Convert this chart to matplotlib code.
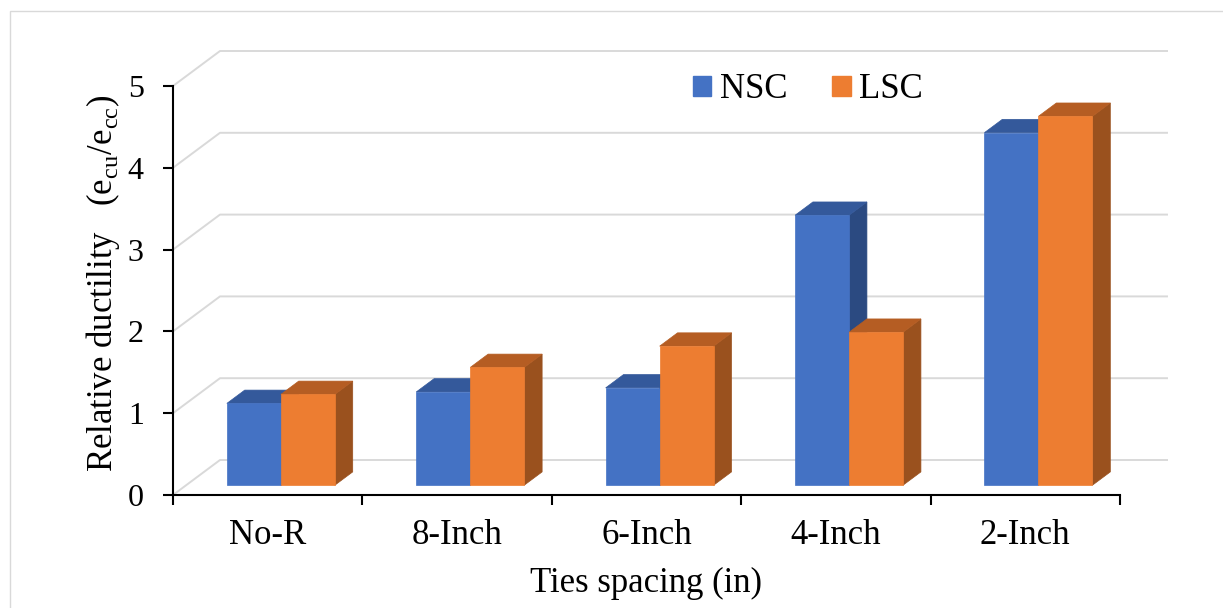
import matplotlib
matplotlib.use("Agg")
import matplotlib.pyplot as plt
from matplotlib.patches import Polygon, Patch, Rectangle

categories = ['No-R', '8-Inch', '6-Inch', '4-Inch', '2-Inch']
series = ['NSC', 'LSC']
nsc = [1.00, 1.14, 1.19, 3.30, 4.31]
lsc = [1.11, 1.44, 1.70, 1.87, 4.51]
yticks = [0, 1, 2, 3, 4, 5]

plt.rcParams['font.family'] = ['Liberation Serif', 'DejaVu Serif']
plt.rcParams['mathtext.fontset'] = 'custom'
plt.rcParams['mathtext.rm'] = 'Liberation Serif'

W, H = 1223, 608
fig = plt.figure(figsize=(W / 100, H / 100), dpi=100)

# layout in pixels
left_px, right_px, zero_px, top_px = 173, 1175, 495, 40
xunit, yunit = 189.4, 81.8          # px per category / per unit value
ax = fig.add_axes([left_px / W, (H - zero_px) / H,
                   (right_px - left_px) / W, (zero_px - top_px) / H])
ax.set_xlim(-0.5, -0.5 + (right_px - left_px) / xunit)
ax.set_ylim(0, (zero_px - top_px) / yunit)
ax.patch.set_visible(False)

# fake 3d depth
DX, DY = 47 / xunit, 35 / yunit
f0, fd = 0.28, 0.38     # bar front position and bar depth (fraction of full depth)
w = 54 / xunit
n = len(categories)

grid_c = '#d9d9d9'
for v in yticks:
    ax.plot([-0.5, -0.5 + DX, n - 0.5 + DX], [v, v + DY, v + DY],
            color=grid_c, lw=1.4, zorder=1, clip_on=False)

cols = {'NSC': ('#4472C4', '#34599B', '#2B4A81'),
        'LSC': ('#ED7D31', '#B55D23', '#9A511E')}
data = {'NSC': nsc, 'LSC': lsc}

for i in range(n):
    for j, s in enumerate(series):
        front, top, side = cols[s]
        x0 = i - w + j * w + f0 * DX
        x1 = x0 + w
        yb = f0 * DY
        yt = data[s][i] + f0 * DY
        ddx, ddy = fd * DX, fd * DY
        z = 2 + i * 2 + j * 0.5
        ax.add_patch(Polygon([(x1, yb), (x1 + ddx, yb + ddy), (x1 + ddx, yt + ddy), (x1, yt)],
                             closed=True, fc=side, ec=side, lw=0.5, zorder=z))
        ax.add_patch(Polygon([(x0, yt), (x1, yt), (x1 + ddx, yt + ddy), (x0 + ddx, yt + ddy)],
                             closed=True, fc=top, ec=top, lw=0.5, zorder=z))
        ax.add_patch(Polygon([(x0, yb), (x1, yb), (x1, yt), (x0, yt)],
                             closed=True, fc=front, ec=front, lw=0.5, zorder=z + 0.1))

for sp in ['top', 'right']:
    ax.spines[sp].set_visible(False)
ax.spines['left'].set_bounds(0, 5)
ax.spines['bottom'].set_bounds(-0.5, n - 0.5)
for sp in ['left', 'bottom']:
    ax.spines[sp].set_linewidth(1.5)
    ax.spines[sp].set_zorder(20)

ax.set_yticks(yticks)
ax.tick_params(axis='y', length=7, width=1.5, direction='out', labelsize=23, pad=14)
ax.set_xticks(range(n))
ax.set_xticklabels(categories)
ax.tick_params(axis='x', which='major', length=0, pad=17, labelsize=25)
ax.set_xticks([i - 0.5 for i in range(n + 1)], minor=True)
ax.tick_params(axis='x', which='minor', length=7, width=1.5, direction='out')

fig.text(103 / W, 1 - 283 / H, r'Relative ductility   (e$_{\rm cu}$/e$_{\rm cc}$)',
         rotation=90, ha='center', va='center', fontsize=25)
fig.text(646 / W, 1 - 583 / H, 'Ties spacing (in)', ha='center', va='center', fontsize=25)

handles = [Patch(color=cols[s][0], label=s) for s in series]
fig.legend(handles=handles, loc='center', bbox_to_anchor=(808 / W, 1 - 90 / H), ncol=2,
           frameon=False, fontsize=25, handlelength=0.52, handleheight=0.52,
           handletextpad=0.25, columnspacing=1.3)

# chart area border
fig.add_artist(Rectangle((10 / W, -0.1), 1.0, 1.1 - 11 / H, transform=fig.transFigure,
                         fill=False, ec=grid_c, lw=1.0))

fig.savefig('out.png', dpi=100)
